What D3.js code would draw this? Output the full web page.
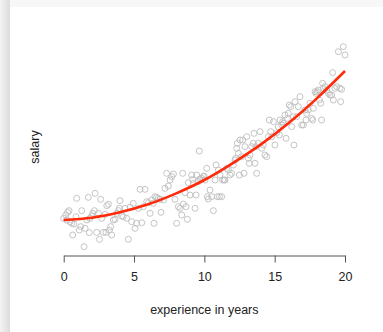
<!DOCTYPE html>
<html>
<head>
<meta charset="utf-8">
<script src="https://cdn.jsdelivr.net/npm/d3@7"></script>
<style>
  body { margin: 0; background: #fff; }
  svg { display: block; font-family: "Liberation Sans", Arial, Helvetica, sans-serif; }
</style>
</head>
<body>
<svg id="chart" width="383" height="332"></svg>
<script>
// years of experience (x) and salary in k (y)
let years = [0.00,0.14,0.28,0.38,0.21,0.45,0.57,0.64,0.73,0.88,0.92,1.11,1.28,1.21,1.45,1.52,1.64,1.75,1.82,1.87,
  1.99,2.06,2.18,2.23,2.35,2.46,2.54,2.63,2.70,2.82,2.94,3.01,3.06,3.18,3.25,3.34,3.41,3.53,3.65,3.77,
  3.89,3.96,4.00,4.12,4.24,4.36,4.48,4.60,4.72,4.83,4.95,5.07,5.19,5.31,5.43,5.55,5.66,5.78,5.90,6.02,
  6.14,6.26,6.37,6.42,6.49,6.61,6.73,6.85,6.92,7.09,7.20,7.32,7.44,7.56,7.68,7.80,7.91,8.03,8.15,8.27,
  8.39,8.46,8.51,8.63,8.70,8.79,8.86,8.98,9.10,9.17,9.22,9.34,9.41,9.45,9.57,9.64,9.69,9.81,9.93,9.98,
  10.05,10.17,10.21,10.28,10.40,10.52,10.64,10.76,10.83,10.92,11.00,11.07,11.11,11.23,11.30,11.40,11.47,11.59,11.71,11.82,
  11.94,12.06,12.18,12.23,12.30,12.35,12.42,12.49,12.54,12.65,12.73,12.82,12.89,13.01,13.13,13.20,13.25,13.36,13.48,13.53,
  13.60,13.67,13.72,13.84,13.96,14.08,14.19,14.31,14.43,14.55,14.62,14.72,14.79,14.91,15.02,15.14,15.26,15.33,15.38,15.50,
  15.57,15.62,15.73,15.81,15.90,15.97,16.04,16.14,16.21,16.33,16.37,16.45,16.56,16.68,16.80,16.92,17.04,17.16,17.23,17.27,
  17.39,17.51,17.63,17.70,17.75,17.87,17.94,18.03,18.10,18.18,18.27,18.34,18.41,18.46,18.58,18.70,18.82,18.93,19.05,19.12,
  19.17,19.29,19.41,19.53,19.64,19.69,19.76,19.88,20.00];
let salary = [30.5,31.5,32.3,32.8,30.0,29.5,29.0,25.5,28.8,31.0,36.5,27.0,32.8,28.0,22.0,27.5,30.0,36.8,26.2,30.5,
  31.2,32.0,32.8,38.0,26.3,32.0,24.2,36.2,30.5,26.3,31.7,26.3,34.3,34.7,27.0,28.0,25.5,30.0,30.2,32.0,
  32.8,33.5,35.8,31.2,31.0,33.5,30.5,24.2,33.8,29.5,35.0,27.5,29.0,33.5,39.2,29.2,34.0,39.2,35.5,35.2,
  32.0,36.0,35.0,29.0,37.0,36.8,36.5,36.2,32.3,36.0,39.5,44.0,40.2,42.0,43.0,43.8,36.2,29.0,34.0,33.5,
  31.5,44.0,34.8,38.2,34.0,30.2,41.2,37.5,43.5,42.2,41.0,33.5,37.5,43.5,41.5,50.7,42.3,42.5,43.0,43.2,
  42.0,45.5,37.0,36.3,39.0,37.0,32.8,42.0,46.5,37.0,45.0,37.0,43.5,37.0,42.0,42.0,42.0,45.5,45.0,43.5,
  44.0,46.5,48.0,48.5,51.5,53.0,50.0,43.5,54.0,49.0,54.0,44.0,52.0,55.0,48.5,47.0,49.5,52.0,53.0,56.0,
  47.0,52.0,44.0,53.0,56.5,51.5,52.5,49.5,49.0,55.0,60.0,56.5,55.0,59.5,52.5,56.2,58.0,55.5,60.0,58.5,
  59.5,59.0,61.5,54.5,60.5,62.0,64.5,64.0,58.0,61.0,52.5,65.5,61.0,64.0,67.0,58.5,58.5,63.0,60.0,62.0,
  63.0,65.0,60.5,60.0,63.5,68.5,68.0,68.5,69.0,66.0,65.0,60.0,71.0,69.5,70.0,69.0,68.0,67.5,67.5,74.2,
  66.0,69.5,70.0,80.5,69.5,65.5,69.2,82.0,79.5];

// fitted trend line, read at every second year
let fitYears = [0, 2, 4, 6, 8, 10, 12, 14, 16, 18, 20];
let fitSalary = [30.0, 30.7, 32.3, 34.7, 38.0, 42.0, 47.0, 52.6, 59.1, 66.5, 74.7];

let xTicks = [0, 5, 10, 15, 20];

let svg = d3.select('#chart');

// page backdrop: grey strip on the left, card shadow at the top
let defs = svg.append('defs');
let grad = defs.append('linearGradient').attr('id', 'shade');
grad.append('stop').attr('offset', '0%').attr('stop-color', '#f4f4f4');
grad.append('stop').attr('offset', '100%').attr('stop-color', '#dcdcdc');
svg.append('rect').attr('width', 383).attr('height', 332).attr('fill', '#f7f7f7');
svg.append('rect').attr('width', 10).attr('height', 332).attr('fill', 'url(#shade)');
svg.append('rect').attr('x', 10).attr('y', 7).attr('width', 373).attr('height', 325).attr('fill', '#fff');

let x = d3.scaleLinear().domain([0, 20]).range([63.7, 345]);
let y = d3.scaleLinear().domain([0, 96]).range([320, 0]);

let pts = years.map((d, i) => ({ x: d, y: salary[i] }));

svg.append('g')
    .selectAll('circle')
    .data(pts)
    .enter()
    .append('circle')
    .attr('cx', d => x(d.x))
    .attr('cy', d => y(d.y))
    .attr('r', 3)
    .attr('fill', 'none')
    .attr('stroke', '#bdbdbd')
    .attr('stroke-width', 0.9);

let line = d3.line()
    .x(d => x(d[0]))
    .y(d => y(d[1]))
    .curve(d3.curveNatural);

svg.append('path')
    .datum(fitYears.map((d, i) => [d, fitSalary[i]]))
    .attr('d', line)
    .attr('fill', 'none')
    .attr('stroke', '#ff2a0a')
    .attr('stroke-width', 2.6);

// bottom axis, R style
let axis = svg.append('g')
    .attr('transform', 'translate(0,255.5)')
    .call(d3.axisBottom(x).tickValues(xTicks).tickSize(7).tickPadding(10).tickSizeOuter(0));
axis.select('.domain').attr('stroke', '#555');
axis.selectAll('.tick line').attr('stroke', '#555');
axis.selectAll('.tick text')
    .attr('fill', '#222')
    .style('font-size', '12.5px');

svg.append('text')
    .attr('x', x(10))
    .attr('y', 314)
    .attr('text-anchor', 'middle')
    .attr('fill', '#222')
    .style('font-size', '12.5px')
    .text('experience in years');

svg.append('text')
    .attr('transform', 'translate(39,147) rotate(-90)')
    .attr('text-anchor', 'middle')
    .attr('fill', '#222')
    .style('font-size', '12.5px')
    .text('salary');
</script>
</body>
</html>
